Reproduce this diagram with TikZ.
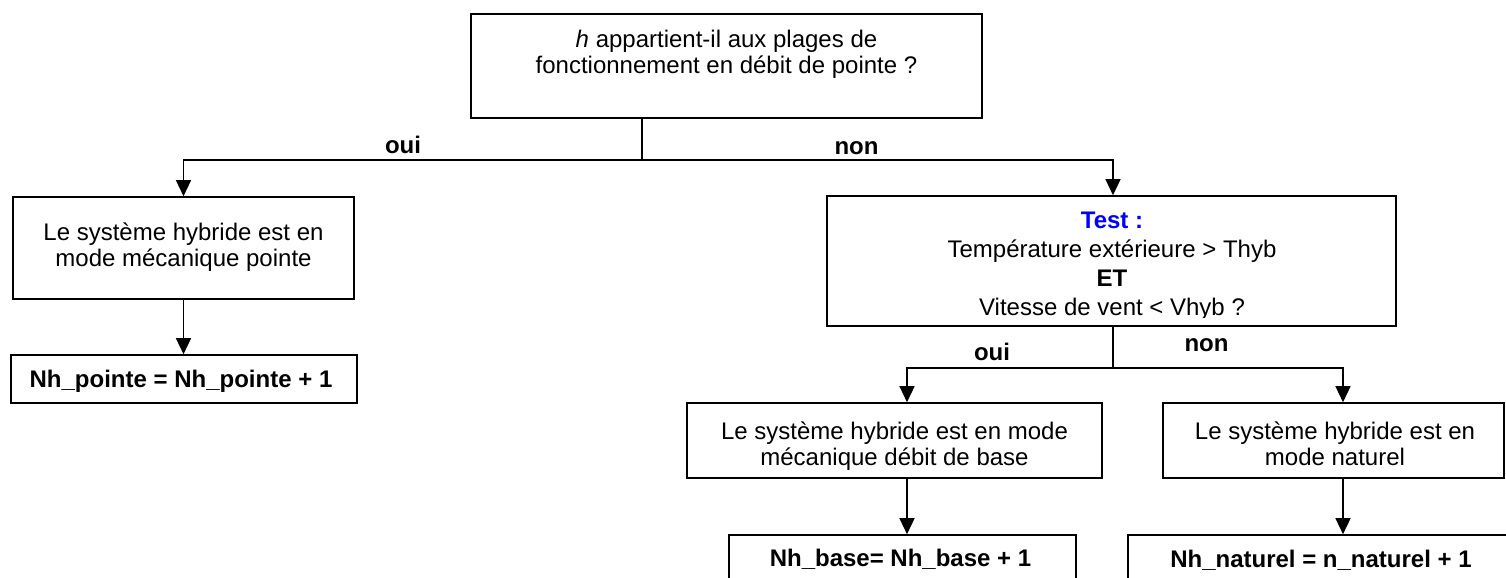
\documentclass[tikz,border=0pt]{standalone}
\usepackage{fontspec}
\setmainfont{Liberation Sans}
\usetikzlibrary{arrows.meta}
\newcommand\mlines[1]{\begin{tabular}[t]{@{}c@{}}#1\end{tabular}}
\begin{document}
\begin{tikzpicture}[x=0.5pt,y=-0.5pt,
  box/.style={draw,line width=0.8pt,inner sep=0pt,rectangle},
  txt/.style={inner sep=0pt,anchor=base,font=\fontsize{12pt}{13pt}\selectfont},
  lbl/.style={inner sep=0pt,anchor=base,font=\fontsize{12pt}{13pt}\selectfont\bfseries},
  conn/.style={line width=0.7pt},
  arr/.style={conn,-{Triangle[width=7.5pt,length=8pt]}}]
\clip (0,0) rectangle (1506,578);
% boxes
\node[box,minimum width=255.5pt,minimum height=52pt] (top) at (726.5,66) {};
\node[box,minimum width=170.5pt,minimum height=51pt] (b1) at (183.5,248) {};
\node[box,minimum width=173pt,minimum height=24pt] (b2) at (184,379) {};
\node[box,minimum width=284.5pt,minimum height=65pt] (test) at (1111.5,261) {};
\node[box,minimum width=207.5pt,minimum height=37.5pt] (mech) at (894.5,440.5) {};
\node[box,minimum width=170.5pt,minimum height=37.5pt] (nat) at (1333.5,440.5) {};
\node[box,minimum width=173.5pt,minimum height=24pt] (nb) at (902.5,559) {};
\node[box,minimum width=193pt,minimum height=24pt] (nn) at (1321,559) {};
% texts
\node[txt] (ttop) at (726.5,47) {\mlines{\textit{h} appartient-il aux plages de\\fonctionnement en débit de pointe ?}};
\node[txt] (tb1) at (183.5,240.5) {\mlines{Le système hybride est en\\mode mécanique pointe}};
\node[txt,font=\fontsize{12pt}{13pt}\selectfont\bfseries] (tb2) at (181,387) {Nh\_pointe = Nh\_pointe + 1};
\begin{scope}
\clip (827,196) rectangle (1396,317.5);
\node[txt,font=\fontsize{12pt}{14.5pt}\selectfont] (ttest) at (1112,228) {\mlines{\textcolor{blue}{\textbf{Test :}}\\Température extérieure > Thyb\\\textbf{ET}\\Vitesse de vent < Vhyb ?}};
\end{scope}
\node[txt] (tmech) at (894.5,439.5) {\mlines{Le système hybride est en mode\\mécanique débit de base}};
\node[txt] (tnat) at (1335,439.5) {\mlines{Le système hybride est en\\mode naturel}};
\node[txt,font=\fontsize{12pt}{13pt}\selectfont\bfseries] (tnb) at (900.5,566) {Nh\_base= Nh\_base + 1};
\node[txt,font=\fontsize{12pt}{13pt}\selectfont\bfseries] (tnn) at (1321,567) {Nh\_naturel = n\_naturel + 1};
% labels
\node[lbl] (oui1) at (403,153.5) {oui};
\node[lbl] (non1) at (856.5,154) {non};
\node[lbl] (oui2) at (992,360) {oui};
\node[lbl] (non2) at (1206.5,351.5) {non};
% connectors
\coordinate (j1) at (642,160);
\coordinate (j2) at (1113,368);
\draw[conn] ([xshift=-42.25pt]top.south) -- (j1);
\draw[arr] (j1) -| (b1.north);
\draw[arr] (j1) -| ([xshift=0.75pt]test.north);
\draw[arr] (b1.south) -- (b1.south |- b2.north);
\draw[conn] ([xshift=0.75pt]test.south) -- (j2);
\draw[arr] (j2) -| ([xshift=6.25pt]mech.north);
\draw[arr] (j2) -| ([xshift=4.75pt]nat.north);
\draw[arr] ([xshift=6.25pt]mech.south) -- ([xshift=6.25pt]mech.south |- nb.north);
\draw[arr] ([xshift=4.75pt]nat.south) -- ([xshift=4.75pt]nat.south |- nn.north);
\end{tikzpicture}
\end{document}
